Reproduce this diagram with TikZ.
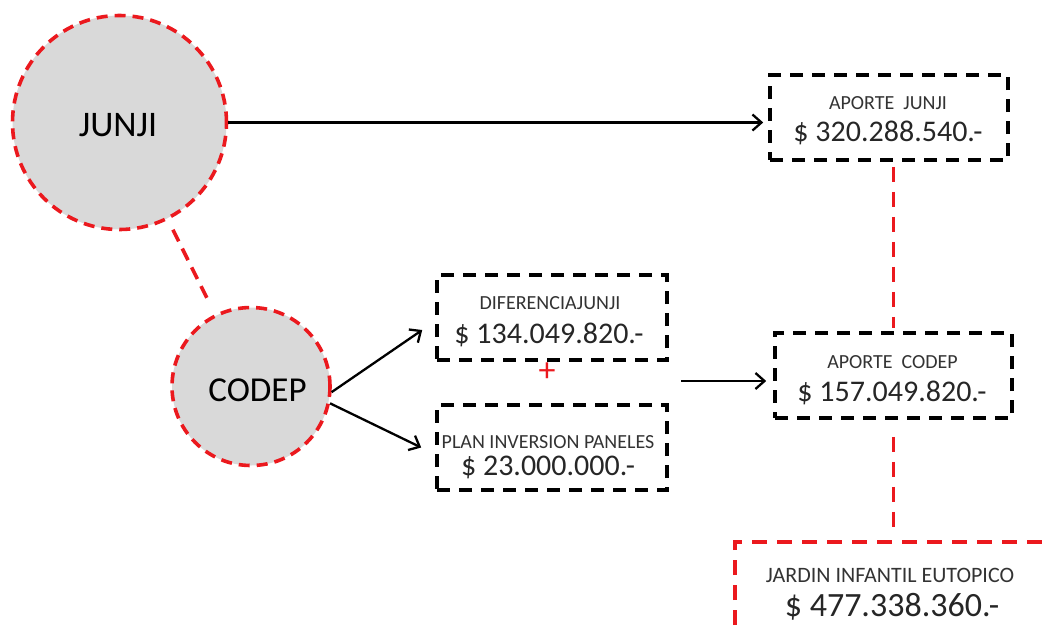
\documentclass[tikz,border=0pt]{standalone}
\usepackage{fontspec}
\setmainfont{Carlito}
\usetikzlibrary{arrows.meta}
\definecolor{dred}{RGB}{235,25,30}
\definecolor{cfill}{RGB}{217,217,217}
\begin{document}
\begin{tikzpicture}[x=1pt,y=-1pt,
 circ/.style={circle, fill=cfill, draw=dred, line width=3.6pt, dash pattern=on 11pt off 7pt, inner sep=0pt},
 box/.style={rectangle, draw=black, line width=3.6pt, dash pattern=on 13pt off 9pt, inner sep=0pt},
 big/.style={font=\fontsize{36}{36}\selectfont, text=black, inner sep=0pt},
 small/.style={font=\fontsize{20}{22}\selectfont, text=black!80, inner sep=0pt},
 amount/.style={font=\fontsize{30}{32}\selectfont, text=black!85, inner sep=0pt},
 arr/.style={-{Straight Barb[length=9pt,width=16pt]}, line width=2.3pt},
 redline/.style={draw=dred, line width=3.6pt, dash pattern=on 15pt off 10pt}]
\useasboundingbox (0,0) rectangle (1042,625);
\clip (0,0) rectangle (1042,625);

% circles
\node[circ, minimum size=214pt] (junji) at (119.5,122.5) {};
\node[big] (junjit) at (118,125) {JUNJI};
\node[circ, minimum size=158pt] (codep) at (251,386.5) {};
\node[big, font=\fontsize{35}{35}\selectfont] (codept) at (257.5,390) {CODEP};

% boxes
\node[box, minimum width=238pt, minimum height=85pt] (aj) at (889,117.5) {};
\node[small] (ajs) at (888,103) {APORTE\ \ JUNJI};
\node[amount] (ajv) at (888,133) {\$ 320.288.540.-};

\node[box, minimum width=237pt, minimum height=85pt] (ac) at (893.5,375.5) {};
\node[small] (acs) at (892.5,362) {APORTE\ \ CODEP};
\node[amount] (acv) at (892,393) {\$ 157.049.820.-};

\node[box, minimum width=230pt, minimum height=85pt] (dif) at (552,317.5) {};
\node[small] (difs) at (550,303) {DIFERENCIAJUNJI};
\node[amount] (difv) at (549,335) {\$ 134.049.820.-};

\node[box, minimum width=230pt, minimum height=85pt] (plan) at (552,447.5) {};
\node[small] (plans) at (548,442) {PLAN INVERSION PANELES};
\node[amount] (planv) at (548,467) {\$ 23.000.000.-};

\node[text=dred, font=\fontsize{34}{34}\selectfont, inner sep=0pt] (plus) at (547,372) {+};

% jardin
\draw[redline] (735,700) |- (1100,542);
\coordinate (jtop) at (892,542);
\node[small, font=\fontsize{22}{24}\selectfont] (jards) at (890,575) {JARDIN INFANTIL EUTOPICO};
\node[amount, font=\fontsize{34}{36}\selectfont] (jardv) at (892,607) {\$ 477.338.360.-};

% connectors
\draw[redline, dash pattern=on 13pt off 8pt, shorten <=11pt, shorten >=12pt] (junji) -- (codep);
\draw[arr, shorten >=5pt] (junji.east) -- (junji.east -| aj.west);
\draw[arr] (codep.-4) -- ([xshift=-13pt,yshift=-12.5pt]dif.west);
\draw[arr] (codep.-12) -- ([xshift=-14pt]plan.west);
\coordinate (sum) at (681,381);
\draw[arr, shorten >=7pt] (sum) -- (sum -| ac.west);
\draw[redline, shorten <=5pt, shorten >=3pt] (ac.north |- aj.south) -- (ac.north);
\draw[redline, shorten <=17pt, shorten >=15pt] (ac.south) -- (ac.south |- jtop);
\end{tikzpicture}
\end{document}
